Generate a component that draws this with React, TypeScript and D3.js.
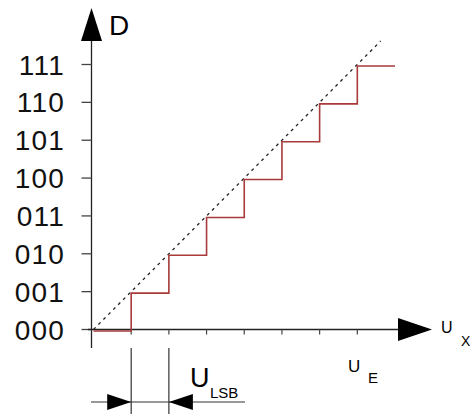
import React from "react";
import * as d3 from "d3";

const codes = ["000", "001", "010", "011", "100", "101", "110", "111"];
const stepInputs = [0, 1, 2, 3, 4, 5, 6, 7, 8];
const stepOutputs = [0, 1, 2, 3, 4, 5, 6, 7, 7];
const xTickValues = [1, 2, 3, 4, 5, 6, 7];
const idealLine = [0, 7.62];
const lsbMarks = [1, 2];

const W = 470;
const H = 414;
const FONT = "Liberation Sans, Arial, sans-serif";

export default function App() {
  const x = d3.scaleLinear().domain([0, 8]).range([93.5, 395]);
  const y = d3.scaleLinear().domain([0, 7]).range([329.5, 64.5]);
  const axisX = 91.5;
  const axisY = 329.5;

  const stairPts: [number, number][] = [];
  stepInputs.forEach((v, i) => {
    if (i === 0) {
      stairPts.push([x(v), y(stepOutputs[i]) + 1.5]);
    } else {
      stairPts.push([x(v), y(stepOutputs[i - 1]) + 1.5]);
      stairPts.push([x(v), y(stepOutputs[i]) + 1.5]);
    }
  });
  const line = d3.line();
  const stairPath = line(stairPts) || "";
  const idealPath = line(idealLine.map((v) => [x(v), y(v)] as [number, number])) || "";

  const dimY = 402;
  const arrowL = 24;
  const arrowH = 8;

  return (
    <svg
      width={W}
      height={H}
      style={{ position: "absolute", left: 0, top: 0, background: "#fff" }}
      fontFamily={FONT}
    >
      <rect width={W} height={H} fill="#fff" />
      {/* y axis */}
      <line x1={axisX} x2={axisX} y1={348} y2={40} stroke="#222" strokeWidth={1.3} />
      <path d={`M${axisX - 10.5},41 L${axisX + 10.5},41 L${axisX},8 Z`} fill="#000" />
      <text x={109} y={35} fontSize={28} fill="#000">D</text>
      {codes.map((c, i) => (
        <g key={c}>
          <line x1={axisX - 10} x2={axisX} y1={y(i)} y2={y(i)} stroke="#444" strokeWidth={1.3} />
          <text x={65} y={y(i) + 10} fontSize={28} letterSpacing={1.2} textAnchor="end" fill="#111">{c}</text>
        </g>
      ))}
      {/* x axis */}
      <line x1={88} x2={400} y1={axisY} y2={axisY} stroke="#222" strokeWidth={1.3} />
      <path d={`M398,${axisY - 11.5} L398,${axisY + 11.5} L432,${axisY} Z`} fill="#000" />
      {xTickValues.map((v) => (
        <line key={v} x1={x(v)} x2={x(v)} y1={axisY} y2={axisY + 5} stroke="#444" strokeWidth={1.2} />
      ))}
      <text x={441} y={333} fontSize={16} fill="#000">U</text>
      <text x={461} y={346} fontSize={14} fill="#000">X</text>
      <text x={348} y={372} fontSize={17} fill="#000">U</text>
      <text x={368} y={383} fontSize={15} fill="#000">E</text>

      {/* ideal line */}
      <path d={idealPath} fill="none" stroke="#222" strokeWidth={1.3} strokeDasharray="3,4" />
      {/* staircase */}
      <path d={stairPath} fill="none" stroke="#a83a3a" strokeWidth={1.6} />

      {/* LSB dimension */}
      {lsbMarks.map((v) => (
        <line key={v} x1={x(v)} x2={x(v)} y1={348} y2={H} stroke="#333" strokeWidth={1.2} />
      ))}
      <line x1={91} x2={245} y1={dimY} y2={dimY} stroke="#333" strokeWidth={1.2} />
      <path
        d={`M${x(lsbMarks[0]) - arrowL},${dimY - arrowH} L${x(lsbMarks[0]) - arrowL},${dimY + arrowH} L${x(lsbMarks[0])},${dimY} Z`}
        fill="#000"
      />
      <path
        d={`M${x(lsbMarks[1]) + arrowL},${dimY - arrowH} L${x(lsbMarks[1]) + arrowL},${dimY + arrowH} L${x(lsbMarks[1])},${dimY} Z`}
        fill="#000"
      />
      <text x={190} y={387} fontSize={27} fill="#000">U</text>
      <text x={210} y={398} fontSize={15} fill="#000">LSB</text>
    </svg>
  );
}
